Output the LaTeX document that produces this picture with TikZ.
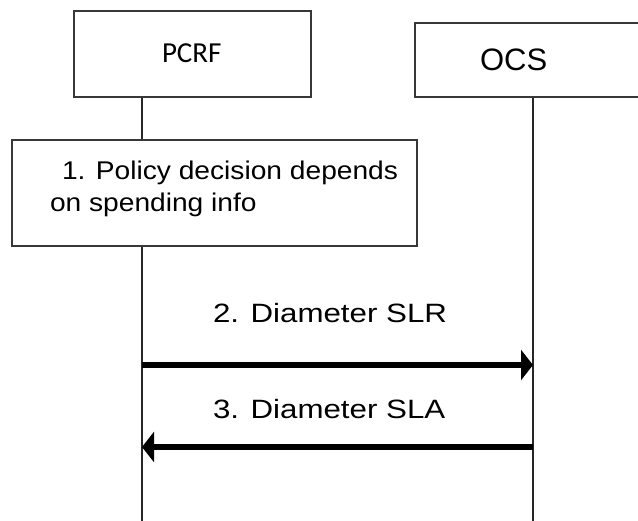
\documentclass[tikz,border=0pt]{standalone}
\usepackage{fontspec}
\setmainfont{Liberation Sans}
\newfontfamily\calib{Carlito}
\newfontfamily\boxfont[FakeStretch=1.1]{Liberation Sans}
\newfontfamily\msgfont[FakeStretch=1.18]{Liberation Sans}
\usetikzlibrary{arrows.meta}

\begin{document}
\begin{tikzpicture}[x=1pt,y=-1pt,
  frame/.style={draw=black!78, line width=1.4pt, fill=white, inner sep=0pt, outer sep=0pt},
  life/.style={draw=black!85, line width=1.6pt},
  msg/.style={line width=5.5pt, -{Triangle[length=12pt,width=30pt]}},
  txt/.style={anchor=base west, inner sep=0pt, outer sep=0pt},
  boxtxt/.style={txt, font=\boxfont\fontsize{25.6}{32}\selectfont},
  msgtxt/.style={txt, font=\msgfont\fontsize{26.5}{32}\selectfont}
]
\useasboundingbox (0,0) rectangle (638,521);
\clip (0,0) rectangle (638,521);

% lifeline end points
\coordinate (ptop) at (142,97);
\coordinate (pbot) at (142,521);
\coordinate (otop) at (533,97);
\coordinate (obot) at (533,521);

% lifelines
\draw[life] (ptop) -- (pbot);
\draw[life] (otop) -- (obot);

% participant boxes
\node[frame, minimum width=237pt, minimum height=86pt] (pcrf) at (192.5,54) {};
\node[txt, font=\calib\fontsize{29}{32}\selectfont] (pcrflbl) at (162,63) {PCRF};
\node[frame, minimum width=250pt, minimum height=74pt] (ocs) at (540,60) {};
\node[txt, font=\fontsize{31}{36}\selectfont] (ocslbl) at (480,71) {OCS};

% step 1: local decision
\node[frame, minimum width=405pt, minimum height=106pt] (step1) at (214.5,193) {};
\node[boxtxt] (step1a) at (62,180) {1. Policy decision depends};
\node[boxtxt] (step1b) at (50,212) {on spending info};

% messages
\coordinate (m2s) at (142,365);
\coordinate (m2e) at (533,365);
\coordinate (m3s) at (533,447);
\coordinate (m3e) at (142,447);
\draw[msg] (m2s) -- (m2e);
\draw[msg] (m3s) -- (m3e);
\node[msgtxt] (m2lbl) at (213,323) {2. Diameter SLR};
\node[msgtxt] (m3lbl) at (213,419) {3. Diameter SLA};
\end{tikzpicture}
\end{document}
